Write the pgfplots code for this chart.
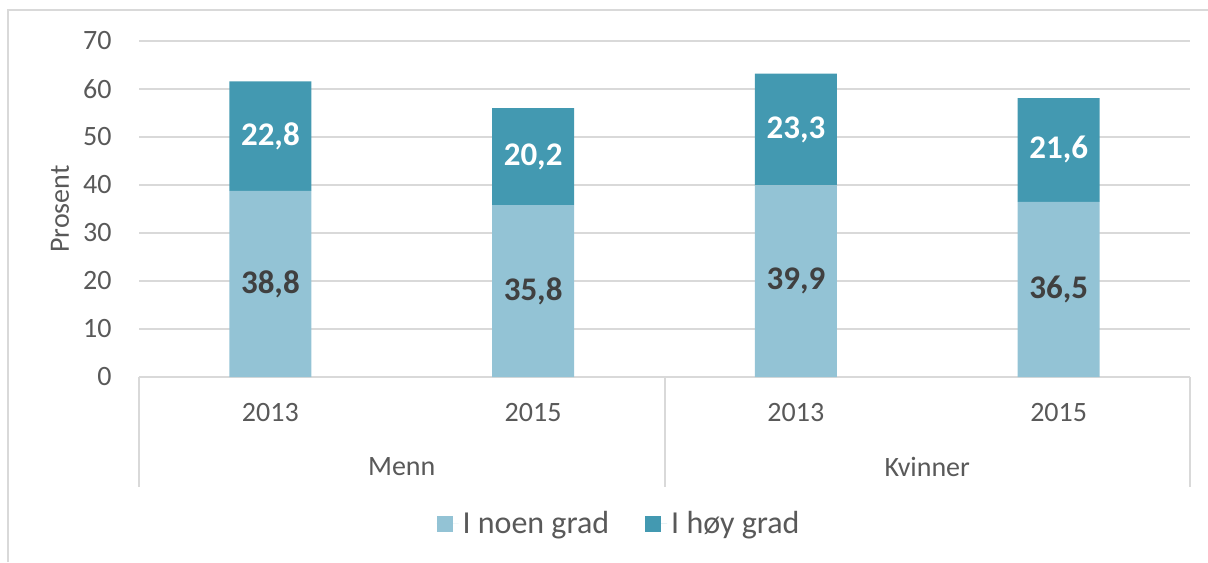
\documentclass[border=0pt]{standalone}
\usepackage{pgfplots}
\pgfplotsset{compat=1.18}
\usepackage{fontspec}
\setmainfont{Carlito}
\definecolor{noen}{HTML}{93C3D5}
\definecolor{hoy}{HTML}{4399B1}
\definecolor{txt}{HTML}{595959}
\definecolor{grd}{HTML}{D9D9D9}
\definecolor{lbl}{HTML}{404040}
\tikzset{dlab/.style={font=\fontsize{16.5}{18}\selectfont\bfseries}}
\begin{document}
\begin{tikzpicture}
\useasboundingbox (0,0) rectangle (604pt,281pt);
% chart frame (only left and top edge visible)
\draw[grd, line width=1pt] (4pt,0) -- (4pt,276pt) -- (604pt,276pt);
\begin{axis}[
    at={(69.5pt,92.5pt)}, anchor=south west,
    scale only axis, width=525.5pt, height=168pt,
    ybar stacked, bar width=41pt,
    xmin=-0.5, xmax=3.5, ymin=0, ymax=70,
    xtick={0,1,2,3}, xticklabels={2013,2015,2013,2015},
    ytick={0,10,...,70},
    axis lines*=left,
    x axis line style={grd, line width=1pt},
    y axis line style={draw=none},
    major tick length=0pt,
    ymajorgrids, grid style={grd, line width=1pt},
    /pgf/number format/assume math mode=true,
    tick label style={font=\fontsize{14}{16}\selectfont, text=txt},
    y tick label style={anchor=east, inner sep=0pt, xshift=-13.5pt},
    x tick label style={anchor=center, inner sep=0pt, yshift=-18pt},
    ylabel={Prosent},
    ylabel style={font=\fontsize{14}{16}\selectfont, text=txt,
        at={(axis description cs:-0.0752,0.5)}, anchor=center},
    clip=false,
    legend style={at={(0.4577,-0.4375)}, anchor=center, draw=none,
        legend columns=2, font=\fontsize{16}{18}\selectfont, text=txt,
        /tikz/every even column/.append style={column sep=16pt}},
    legend image code/.code={\draw[#1,draw=none] (0pt,-4pt) rectangle (8pt,4pt);
        \path (0pt,0pt) -- (11pt,0pt);},
]
\addplot[fill=noen, draw=none] coordinates {(0,38.8) (1,35.8) (2,39.9) (3,36.5)};
\addlegendentry{I noen grad}
\addplot[fill=hoy, draw=none] coordinates {(0,22.8) (1,20.2) (2,23.3) (3,21.6)};
\addlegendentry{I høy grad}

% anchor points for the segment labels (midpoint of each segment)
\coordinate (n0) at (axis cs:0,19.4);
\coordinate (n1) at (axis cs:1,17.9);
\coordinate (n2) at (axis cs:2,19.95);
\coordinate (n3) at (axis cs:3,18.25);
\coordinate (h0) at (axis cs:0,50.2);
\coordinate (h1) at (axis cs:1,45.9);
\coordinate (h2) at (axis cs:2,51.55);
\coordinate (h3) at (axis cs:3,47.3);

% category group separators and labels
\draw[grd, line width=1pt] (axis cs:-0.5,0) -- ++(0pt,-55pt);
\draw[grd, line width=1pt] (axis cs:1.5,0) -- ++(0pt,-55pt);
\draw[grd, line width=1pt] (axis cs:3.5,0) -- ++(0pt,-55pt);
\node[text=txt, font=\fontsize{14}{16}\selectfont] at (axis cs:0.5,0) [yshift=-45pt] {Menn};
\node[text=txt, font=\fontsize{14}{16}\selectfont] at (axis cs:2.5,0) [yshift=-45pt] {Kvinner};
\end{axis}
% data labels on top of the bars
\node[dlab, text=lbl] at (n0) {38,8};
\node[dlab, text=lbl] at (n1) {35,8};
\node[dlab, text=lbl] at (n2) {39,9};
\node[dlab, text=lbl] at (n3) {36,5};
\node[dlab, text=white] at (h0) {22,8};
\node[dlab, text=white] at (h1) {20,2};
\node[dlab, text=white] at (h2) {23,3};
\node[dlab, text=white] at (h3) {21,6};
\end{tikzpicture}
\end{document}
